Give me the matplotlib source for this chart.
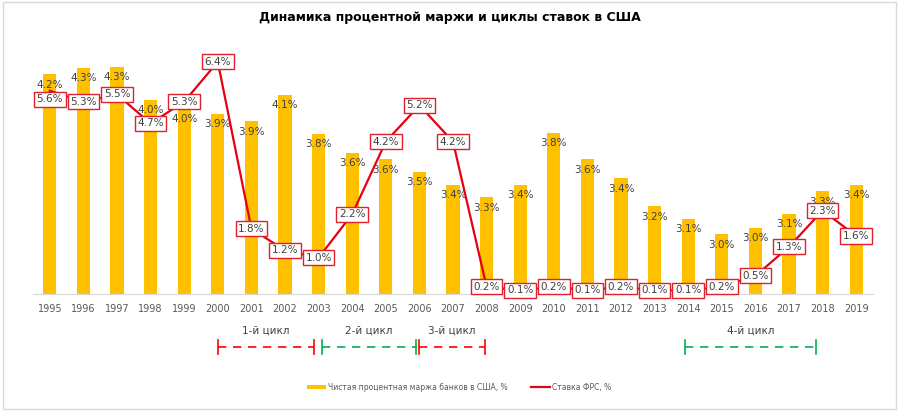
#Importing libraries
import matplotlib.pyplot as plt
from matplotlib.patches import Rectangle

#Data
years = list(range(1995, 2020))
nim = [4.23, 4.28, 4.29, 4.03, 3.96, 3.92, 3.86, 4.07, 3.76, 3.61, 3.56, 3.46, 3.36,
       3.26, 3.36, 3.77, 3.56, 3.41, 3.19, 3.09, 2.97, 3.02, 3.13, 3.31, 3.36]
fed_rate = [5.6, 5.3, 5.5, 4.7, 5.3, 6.4, 1.8, 1.2, 1.0, 2.2, 4.2, 5.2, 4.2,
            0.2, 0.1, 0.2, 0.1, 0.2, 0.1, 0.1, 0.2, 0.5, 1.3, 2.3, 1.6]

#Rate cycles: label, start year, end year, colour
cycle_labels = ["1-й цикл", "2-й цикл", "3-й цикл", "4-й цикл"]
cycle_start = [2000, 2003.1, 2006, 2013.9]
cycle_end = [2002.85, 2005.9, 2007.95, 2017.8]
cycle_colors = ["#FF0000", "#00B050", "#FF0000", "#00B050"]

bar_color = "#FFC000"
line_color = "#E60012"
text_color = "#404040"

plt.rcParams['font.family'] = ['DejaVu Sans']

fig = plt.figure(figsize=(9, 4.11), dpi=100)
ax = fig.add_axes([33 / 900, 1 - 294 / 411, 840 / 900, 254 / 411])
ax2 = ax.twinx()

x = list(range(len(years)))

#Bars: net interest margin
ax.bar(x, nim, width=0.39, bottom=0, color=bar_color, zorder=1,
       label="Чистая процентная маржа банков в США, %")
ax.set_ylim(2.5, 4.5)
ax.set_xlim(-0.5, len(years) - 0.5)
for xi, v in zip(x, nim):
  ax.annotate(f"{v:.1f}%", (xi, v), xytext=(0, -7.5), textcoords="offset points",
              ha="center", va="center", fontsize=7.5, color=text_color, zorder=3)

#Line: Fed rate
ax2.plot(x, fed_rate, color=line_color, linewidth=1.6, zorder=4,
         label="Ставка ФРС, %")
ax2.set_ylim(0, 7)
for xi, v in zip(x, fed_rate):
  #the first label sits a little lower in the original so the bar label stays visible
  dy = -6 if xi == 0 else 0
  ax2.annotate(f"{v:.1f}%", (xi, v), xytext=(0, dy), textcoords="offset points",
               ha="center", va="center", fontsize=7.5, color=text_color, zorder=5,
               bbox=dict(boxstyle="square,pad=0.25", fc="white", ec="#E0202C", lw=1))

#Axes styling
for a in (ax, ax2):
  for side in ("top", "right", "left"):
    a.spines[side].set_visible(False)
  a.set_yticks([])
ax.spines["bottom"].set_color("#D9D9D9")
ax2.spines["bottom"].set_visible(False)
ax.set_xticks(x)
ax.set_xticklabels([str(y) for y in years], fontsize=7, color="#595959")
ax.tick_params(axis="x", length=0, pad=7)

#Cycle brackets under the axis
trans = ax.get_xaxis_transform()
for label, s, e, c in zip(cycle_labels, cycle_start, cycle_end, cycle_colors):
  xs = s - 1995
  xe = e - 1995
  ax.plot([xs, xe], [-0.209, -0.209], transform=trans, clip_on=False,
          color=c, linestyle=(0, (5, 4)), linewidth=1.2)
  for xv in (xs, xe):
    ax.plot([xv, xv], [-0.235, -0.183], transform=trans, clip_on=False,
            color=c, linewidth=1.2)
  ax.text((xs + xe) / 2, -0.142, label, transform=trans, ha="center", va="center",
          fontsize=7.5, color=text_color)

#Title and legend
fig.text(0.5, 1 - 18 / 411, "Динамика процентной маржи и циклы ставок в США",
         ha="center", va="center", fontsize=9, fontweight="bold", color="#000000")
h1, l1 = ax.get_legend_handles_labels()
h2, l2 = ax2.get_legend_handles_labels()
fig.legend(h1 + h2, l1 + l2, loc="center", bbox_to_anchor=(0.51, 1 - 387 / 411),
           ncol=2, frameon=False, fontsize=5.5, labelcolor="#595959",
           handlelength=2.5, handleheight=0.4, columnspacing=3, handletextpad=0.3)

#Light chart border
fig.patches.append(Rectangle((0.003, 0.005), 0.992, 0.99, transform=fig.transFigure,
                             fill=False, ec="#D9D9D9", lw=1))

fig.savefig("out.png", dpi=100)
